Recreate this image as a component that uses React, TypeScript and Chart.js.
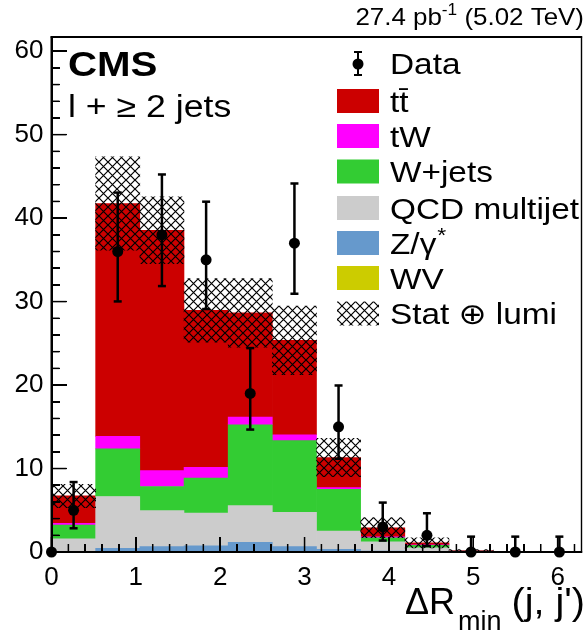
import React, { useEffect, useRef, useState } from 'react';
import { Chart, registerables } from 'chart.js';
Chart.register(...registerables);

// ---- data ----
const binCenters = [0.262, 0.785, 1.309, 1.833, 2.356, 2.880, 3.403, 3.927, 4.451, 4.974, 5.498, 6.021];
const wvValues = [0.02, 0.05, 0.05, 0.05, 0.05, 0.05, 0.02, 0.01, 0, 0, 0, 0];
const zgammaValues = [0, 0.4, 0.6, 0.7, 1.1, 0.6, 0.3, 0.1, 0.05, 0, 0, 0];
const qcdValues = [1.55, 6.2, 4.3, 3.9, 4.4, 4.1, 2.2, 1.1, 0.45, 0.1, 0, 0];
const wjetsValues = [1.65, 5.7, 2.9, 4.2, 9.7, 8.6, 5.0, 0.5, 0.3, 0, 0, 0];
const twValues = [0.2, 1.5, 1.9, 1.3, 0.9, 0.7, 0.2, 0.1, 0.05, 0, 0, 0];
const ttbarValues = [3.3, 27.9, 28.8, 18.8, 12.5, 11.3, 3.6, 1.1, 0.25, 0.1, 0, 0];
const uncValues = [1.4, 5.6, 4.0, 3.8, 4.1, 4.1, 2.3, 1.2, 0.6, 0.1, 0, 0];

const dataX = [0, 0.262, 0.785, 1.309, 1.833, 2.356, 2.880, 3.403, 3.927, 4.451, 4.974, 5.498, 6.021];
const dataY = [0, 5, 36, 38, 35, 19, 37, 15, 3, 2, 0, 0, 0];
const dataErrLo = [0, 2.16, 5.98, 6.14, 5.89, 4.33, 6.06, 3.83, 1.63, 1.29, 0, 0, 0];
const dataErrHi = [0, 3.38, 7.06, 7.23, 6.97, 5.43, 7.15, 4.95, 2.92, 2.64, 1.84, 1.84, 1.84];

const xTickValues = [0, 1, 2, 3, 4, 5, 6];
const yTickValues = [0, 10, 20, 30, 40, 50, 60];

const X_MAX = 6.2832;
const Y_MAX = 61.7;
const FONT = '"Liberation Sans", Arial, "DejaVu Sans", sans-serif';

type Geom = { L: number; R: number; T: number; B: number; xt: { p: number; len: number }[]; yt: { p: number; len: number }[] };

function makeHatch(): CanvasPattern | string {
  const c = document.createElement('canvas');
  const P = 9;
  c.width = P; c.height = P;
  const g = c.getContext('2d');
  if (!g) return 'rgba(0,0,0,0.3)';
  g.strokeStyle = '#000';
  g.lineWidth = 1.2;
  g.beginPath();
  g.moveTo(-1, -1); g.lineTo(P + 1, P + 1);
  g.moveTo(-1, P + 1); g.lineTo(P + 1, -1);
  g.stroke();
  return g.createPattern(c, 'repeat') as CanvasPattern;
}

function txt(ctx: CanvasRenderingContext2D, s: string, x: number, y: number, size: number,
  opts: { bold?: boolean; align?: 'left' | 'right'; sx?: number } = {}) {
  const sx = opts.sx ?? 1;
  ctx.save();
  ctx.font = `${opts.bold ? 'bold ' : ''}${size}px ${FONT}`;
  ctx.fillStyle = '#000';
  ctx.textBaseline = 'alphabetic';
  ctx.textAlign = 'left';
  const w = ctx.measureText(s).width * sx;
  const left = opts.align === 'right' ? x - w : x;
  ctx.translate(left, y);
  ctx.scale(sx, 1);
  ctx.fillText(s, 0, 0);
  ctx.restore();
  return w;
}

function measure(ctx: CanvasRenderingContext2D, s: string, size: number, sx = 1, bold = false) {
  ctx.save();
  ctx.font = `${bold ? 'bold ' : ''}${size}px ${FONT}`;
  const w = ctx.measureText(s).width * sx;
  ctx.restore();
  return w;
}

function computeGeom(chart: any): Geom {
  const xs = chart.scales.x;
  const ys = chart.scales.y;
  const L = xs.getPixelForValue(0);
  const R = xs.getPixelForValue(X_MAX);
  const B = ys.getPixelForValue(0);
  const T = ys.getPixelForValue(Y_MAX);
  const xt: { p: number; len: number }[] = [];
  for (let k = 0; k <= 31; k++) {
    const v = k * 0.2;
    if (v > X_MAX) break;
    xt.push({ p: xs.getPixelForValue(v), len: k % 5 === 0 ? 15 : 8 });
  }
  const yt: { p: number; len: number }[] = [];
  for (let k = 0; k <= 30; k++) {
    const v = k * 2;
    if (v > Y_MAX) break;
    yt.push({ p: ys.getPixelForValue(v), len: k % 5 === 0 ? 15 : 8 });
  }
  return { L, R, T, B, xt, yt };
}

export default function App() {
  const ref = useRef<HTMLCanvasElement>(null);
  const [geom, setGeom] = useState<Geom | null>(null);

  useEffect(() => {
    if (!ref.current) return;
    const hatch = makeHatch();
    const totals = binCenters.map((_, i) =>
      wvValues[i] + zgammaValues[i] + qcdValues[i] + wjetsValues[i] + twValues[i] + ttbarValues[i]);

    const barCommon = {
      type: 'bar' as const,
      grouped: false,
      barPercentage: 1,
      categoryPercentage: 1,
      borderWidth: 0,
      stack: 'mc',
      order: 10,
    };
    const mk = (label: string, vals: number[], color: string) => ({
      ...barCommon,
      label,
      backgroundColor: color,
      data: binCenters.map((x, i) => ({ x, y: vals[i] })),
    });

    const overlay = {
      id: 'overlay',
      afterDatasetsDraw(chart: any) {
        const ctx: CanvasRenderingContext2D = chart.ctx;
        const xs = chart.scales.x;
        const ys = chart.scales.y;
        ctx.save();
        ctx.fillStyle = '#000';
        dataX.forEach((x, i) => {
          if (dataErrLo[i] === 0 && dataErrHi[i] === 0) return;
          const px = xs.getPixelForValue(x);
          const y1 = ys.getPixelForValue(dataY[i] - dataErrLo[i]);
          const y2 = ys.getPixelForValue(dataY[i] + dataErrHi[i]);
          ctx.fillRect(px - 1.25, y2, 2.5, y1 - y2);
          ctx.fillRect(px - 4, y2 - 1.25, 8, 2.5);
          if (dataErrLo[i] > 0) ctx.fillRect(px - 4, y1 - 1.25, 8, 2.5);
        });
        ctx.restore();
      },
      afterDraw(chart: any) {
        const ctx: CanvasRenderingContext2D = chart.ctx;
        const g = computeGeom(chart);
        ctx.save();
        ctx.fillStyle = '#000';
        ctx.fillRect(g.L - 1, g.T - 0.7, g.R - g.L + 1.7, 1.4);
        ctx.fillRect(g.R - 0.7, g.T - 0.7, 1.4, g.B - g.T + 1.4);
        ctx.fillRect(g.L - 1, g.T - 0.7, 2, g.B - g.T + 1.7);
        ctx.fillRect(g.L - 1, g.B - 1, g.R - g.L + 1.7, 2);
        g.xt.forEach((t) => ctx.fillRect(t.p - 0.75, g.B - t.len, 1.5, t.len));
        g.yt.forEach((t) => ctx.fillRect(g.L, t.p - 0.75, t.len, 1.5));
        ctx.restore();

        const SX = 1.15;
        {
          const s1 = '27.4 pb', s2 = '-1', s3 = ' (5.02 TeV)';
          const f = 24, fs = 16, sx = 1.08;
          const w1 = measure(ctx, s1, f, sx), w2 = measure(ctx, s2, fs, sx), w3 = measure(ctx, s3, f, sx);
          let x = 584 - (w1 + w2 + w3);
          txt(ctx, s1, x, 25, f, { sx }); x += w1;
          txt(ctx, s2, x, 15, fs, { sx }); x += w2;
          txt(ctx, s3, x, 25, f, { sx });
        }
        txt(ctx, 'CMS', 68, 76, 35, { bold: true, sx: SX });
        txt(ctx, 'l + \u2265 2 jets', 68, 117, 31, { sx: SX });

        txt(ctx, '\u0394R', 405, 614, 36, { sx: 1.0 });
        txt(ctx, 'min', 458, 630, 27, { sx: 1.0 });
        txt(ctx, "(j, j')", 585, 614, 36, { sx: 1.1, align: 'right' });

        const LF = 29;
        ctx.save();
        ctx.fillStyle = '#000';
        ctx.fillRect(357, 52, 2, 23);
        ctx.fillRect(354, 51, 8, 2);
        ctx.fillRect(354, 74, 8, 2);
        ctx.beginPath(); ctx.arc(358, 64, 5.5, 0, Math.PI * 2); ctx.fill();
        ctx.restore();
        txt(ctx, 'Data', 390, 74, LF, { sx: SX });

        const rows: [string, any, number][] = [
          ['tt\u0304', '#cc0000', 101],
          ['tW', '#ff00ff', 136],
          ['W+jets', '#33cc33', 171.5],
          ['QCD multijet', '#cccccc', 208],
          ['Z/\u03b3', '#6699cc', 243],
          ['WV', '#cccc00', 278],
          ['Stat \u2295 lumi', hatch, 313.5],
        ];
        rows.forEach(([label, color, cy]) => {
          ctx.save();
          ctx.fillStyle = color;
          ctx.fillRect(337, cy - 12, 42, 24);
          ctx.restore();
          const w = txt(ctx, label, 390, cy + 10.5, LF, { sx: SX });
          if (label === 'Z/\u03b3') txt(ctx, '*', 390 + w + 1, cy - 1, 20, { sx: SX });
        });
      },
    };

    const chart = new Chart(ref.current, {
      type: 'bar',
      data: {
        datasets: [
          mk('WV', wvValues, '#cccc00'),
          mk('Z/\u03b3*', zgammaValues, '#6699cc'),
          mk('QCD multijet', qcdValues, '#cccccc'),
          mk('W+jets', wjetsValues, '#33cc33'),
          mk('tW', twValues, '#ff00ff'),
          mk('tt\u0304', ttbarValues, '#cc0000'),
          {
            type: 'bar',
            label: 'Stat \u2295 lumi',
            grouped: false,
            barPercentage: 1,
            categoryPercentage: 1,
            borderWidth: 0,
            stack: 'unc',
            order: 1,
            backgroundColor: hatch as any,
            data: binCenters.map((x, i) => ({ x, y: [totals[i] - uncValues[i], totals[i] + uncValues[i]] })) as any,
          } as any,
          {
            type: 'scatter',
            label: 'Data',
            order: 0,
            clip: false,
            pointRadius: 5.5,
            pointBackgroundColor: '#000',
            pointBorderWidth: 0,
            data: dataX.map((x, i) => ({ x, y: dataY[i] })),
          } as any,
        ],
      },
      options: {
        animation: false,
        responsive: false,
        devicePixelRatio: 1,
        layout: { padding: { top: 37, right: 1, left: 0, bottom: 0 } },
        plugins: { legend: { display: false }, tooltip: { enabled: false }, title: { display: false } },
        scales: {
          x: {
            type: 'linear',
            offset: false,
            min: 0,
            max: X_MAX,
            grid: { display: false, drawTicks: false, offset: false },
            border: { display: false },
            afterFit: (s: any) => { s.height = 81; s.paddingLeft = 0; s.paddingRight = 0; },
            afterBuildTicks: (s: any) => { s.ticks = xTickValues.map((v) => ({ value: v })); },
            ticks: {
              padding: 10,
              color: '#000',
              font: { size: 26, family: FONT },
              maxRotation: 0,
              autoSkip: false,
              callback: (v: any) => String(v),
            },
          },
          y: {
            type: 'linear',
            stacked: true,
            min: 0,
            max: Y_MAX,
            grid: { display: false, drawTicks: false },
            border: { display: false },
            afterFit: (s: any) => { s.width = 51.5; },
            afterBuildTicks: (s: any) => { s.ticks = yTickValues.map((v) => ({ value: v })); },
            ticks: {
              padding: 8,
              color: '#000',
              font: { size: 26, family: FONT },
              autoSkip: false,
              callback: (v: any) => String(v),
            },
          },
        },
      } as any,
      plugins: [overlay],
    });
    setGeom(computeGeom(chart));
    return () => chart.destroy();
  }, []);

  const line = (left: number, top: number, width: number, height: number, key: string) => (
    <div key={key} style={{ position: 'absolute', left, top, width, height, background: '#000', pointerEvents: 'none' }} />
  );

  return (
    <div style={{ position: 'fixed', left: 0, top: 0, width: 587, height: 633, background: '#fff' }}>
      <canvas ref={ref} width={587} height={633} style={{ display: 'block' }} />
      {geom && (
        <>
          {line(geom.L - 1, geom.T - 0.7, geom.R - geom.L + 1.7, 1.4, 'ft')}
          {line(geom.R - 0.7, geom.T - 0.7, 1.4, geom.B - geom.T + 1.4, 'fr')}
          {line(geom.L - 1, geom.T - 0.7, 2, geom.B - geom.T + 1.7, 'fl')}
          {line(geom.L - 1, geom.B - 1, geom.R - geom.L + 1.7, 2, 'fb')}
          {geom.xt.map((t, i) => line(t.p - 0.75, geom.B - t.len, 1.5, t.len, 'xt' + i))}
          {geom.yt.map((t, i) => line(geom.L, t.p - 0.75, t.len, 1.5, 'yt' + i))}
        </>
      )}
    </div>
  );
}
